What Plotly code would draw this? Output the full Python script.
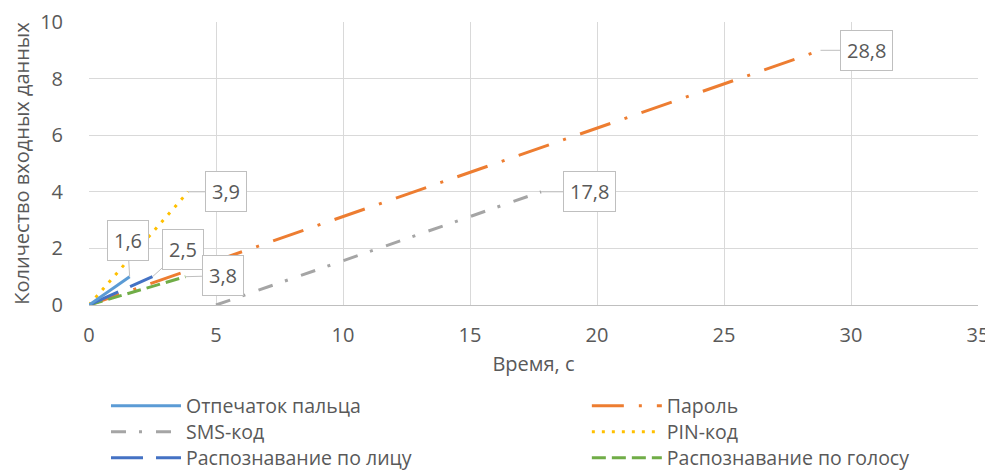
import plotly.graph_objects as go

# ---- data ----
methods = ["Отпечаток пальца", "Пароль", "SMS-код", "PIN-код",
           "Распознавание по лицу", "Распознавание по голосу"]
time_start = [0, 0, 5, 0, 0, 0]
inputs_start = [0, 0, 0, 0, 0, 0]
time_end = [1.6, 28.8, 17.8, 3.9, 2.5, 3.8]
inputs_end = [1, 9, 4, 4, 1, 1]
label_text = ["1,6", "28,8", "17,8", "3,9", "2,5", "3,8"]

x_ticks = [0, 5, 10, 15, 20, 25, 30, 35]
y_ticks = [0, 2, 4, 6, 8, 10]

# ---- styles ----
colors = ["#5B9BD5", "#ED7D31", "#A5A5A5", "#FFC000", "#4472C4", "#70AD47"]
dashes = ["solid", "32px,15px,3px,15px", "15px,13px,3px,14px", "3px,7px",
          "32px,13px", "14px,6px"]
legend_ids = ["legend", "legend2", "legend3", "legend4", "legend5", "legend6"]
# label offsets (pixels) of the callout boxes
label_off = [(-2, -36), (46, 0), (48, 0), (38, 0), (30, -27), (37, -1)]
draw_order = [2, 1, 5, 4, 3, 0]

FONT = "Open Sans"
TXT = "#595959"

# the page body has a default 8px margin; the figure is sized to fit the window
W, H = 985, 464

fig = go.Figure()
for i in draw_order:
    fig.add_trace(go.Scatter(
        x=[time_start[i], time_end[i]],
        y=[inputs_start[i], inputs_end[i]],
        mode="lines",
        name=methods[i],
        line=dict(color=colors[i], width=3, dash=dashes[i]),
        legend=legend_ids[i],
        hoverinfo="skip",
    ))

for i in range(len(methods)):
    fig.add_annotation(
        x=time_end[i], y=inputs_end[i], text=label_text[i],
        showarrow=True, arrowhead=0, arrowwidth=1, arrowcolor="#BFBFBF",
        ax=label_off[i][0], ay=label_off[i][1],
        bordercolor="#BFBFBF", borderwidth=1, borderpad=6, bgcolor="white",
        font=dict(family=FONT, size=20, color=TXT),
    )

# legend placement: two columns, three rows
col_x = [0.0191, 0.560]
row_y = [-0.3569, -0.4488, -0.5406]
legend_layout = {}
for k, lid in enumerate(legend_ids):
    legend_layout[lid] = dict(
        x=col_x[k % 2], y=row_y[k // 2], xanchor="left", yanchor="middle",
        font=dict(family=FONT, size=19.5, color=TXT), itemwidth=70,
        bgcolor="rgba(0,0,0,0)",
    )

fig.update_layout(
    width=W, height=H,
    margin=dict(l=81, r=15, t=14, b=167, autoexpand=False),
    paper_bgcolor="white", plot_bgcolor="white",
    font=dict(family=FONT, color=TXT, size=20),
    showlegend=True,
    **legend_layout,
)
fig.update_xaxes(
    range=[0, 35], tickvals=x_ticks, ticktext=[str(v) for v in x_ticks],
    showgrid=True, gridcolor="#D9D9D9", gridwidth=1,
    showline=True, linecolor="#BFBFBF", linewidth=1, zeroline=False,
    ticks="outside", ticklen=12, tickcolor="rgba(0,0,0,0)",
    tickfont=dict(family=FONT, size=20, color=TXT),
    title=dict(text="Время, с", font=dict(family=FONT, size=20, color=TXT), standoff=9),
    automargin=False,
)
fig.update_yaxes(
    range=[0, 10], tickvals=y_ticks, ticktext=[str(v) for v in y_ticks],
    showgrid=True, gridcolor="#D9D9D9", gridwidth=1,
    showline=False, zeroline=False,
    ticks="outside", ticklen=21, tickcolor="rgba(0,0,0,0)",
    tickfont=dict(family=FONT, size=20, color=TXT),
    title=dict(text="Количество входных данных", font=dict(family=FONT, size=20, color=TXT), standoff=10),
    automargin=False,
)

fig.write_html("out.html")
